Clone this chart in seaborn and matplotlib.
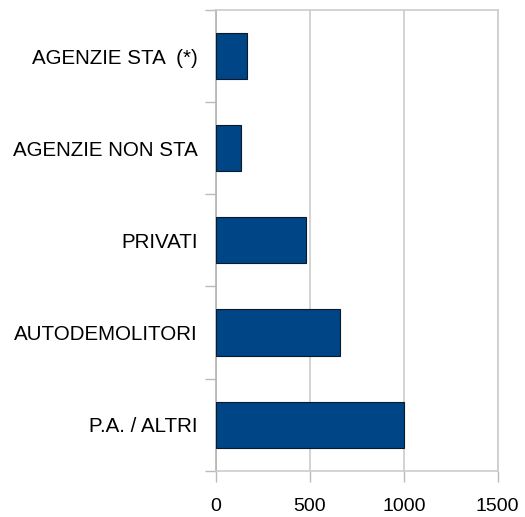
import numpy as np
import pandas as pd
import matplotlib
matplotlib.use("Agg")
import matplotlib.pyplot as plt
import seaborn as sns

categories = ["AGENZIE STA  (*)", "AGENZIE NON STA", "PRIVATI", "AUTODEMOLITORI", "P.A. / ALTRI"]
values = [163, 131, 477, 658, 1002]
x_ticks = [0, 500, 1000, 1500]

sns.set_style("white")
plt.rcParams["font.family"] = ["Liberation Sans", "DejaVu Sans"]
plt.rcParams["text.color"] = "black"
plt.rcParams["xtick.labelcolor"] = "black"
plt.rcParams["ytick.labelcolor"] = "black"

df = pd.DataFrame({"categoria": categories, "valore": values})

fig = plt.figure(figsize=(5.25, 5.17), dpi=100)
ax = fig.add_axes([0.4114, 0.0896, 0.5366, 0.8911])

sns.barplot(data=df, x="valore", y="categoria", order=categories, orient="h",
            color="#004586", saturation=1, width=0.5,
            edgecolor="#0a1a2a", linewidth=0.8, ax=ax, zorder=3)

ax.set_xlim(0, 1500)
ax.set_ylim(len(categories) - 0.5, -0.5)
ax.set_xticks(x_ticks)
ax.set_xticklabels([str(t) for t in x_ticks], fontsize=14)
ax.xaxis.grid(True, color="#cccccc", linewidth=1.2, zorder=0)
ax.set_axisbelow(True)

# category labels at centres, tick marks at the boundaries
ax.set_yticks(np.arange(len(categories)))
ax.set_yticklabels(categories, fontsize=14.8)
ax.set_yticks(np.arange(len(categories) + 1) - 0.5, minor=True)
ax.tick_params(axis="y", which="major", length=0, pad=13, labelcolor="black")
ax.tick_params(axis="y", which="minor", length=8, width=1, color="#bbbbbb", direction="out", left=True)
ax.tick_params(axis="x", which="major", length=8, width=1, color="#bbbbbb", direction="out", bottom=True,
               pad=12, labelcolor="black")

for side in ["top", "right", "bottom"]:
    ax.spines[side].set_color("#cccccc")
    ax.spines[side].set_linewidth(1.2)
ax.spines["left"].set_color("#b3b3b3")
ax.spines["left"].set_linewidth(1.2)

ax.set_xlabel("")
ax.set_ylabel("")

fig.savefig("out.png", dpi=100)
